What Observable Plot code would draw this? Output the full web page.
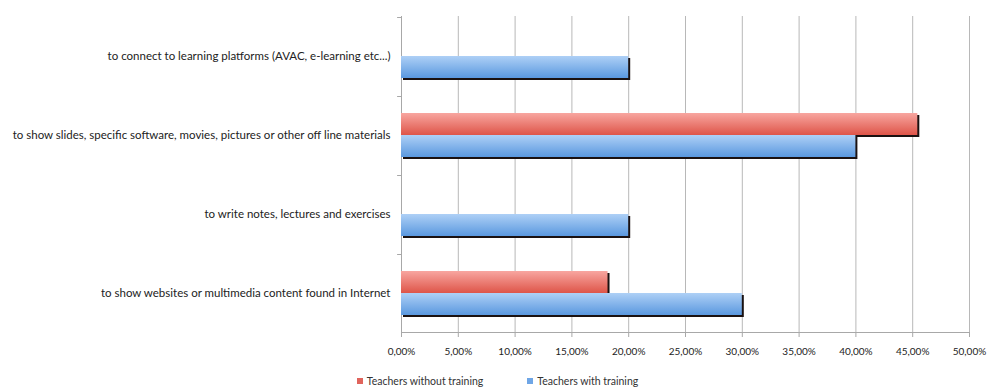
<!DOCTYPE html>
<html><head><meta charset="utf-8">
<script src="https://cdn.jsdelivr.net/npm/d3@7"></script>
<script src="https://cdn.jsdelivr.net/npm/@observablehq/plot@0.6"></script>
<style>
body{margin:0;background:#fff;font-family:Lato,"Open Sans",sans-serif;}
#chart svg{display:block;}
#legend{display:flex;justify-content:center;gap:44px;font-size:10.5px;color:#333;height:15px;line-height:15px;margin-top:2px;margin-left:6px;}
#legend span.sw{display:inline-block;width:6px;height:6px;margin-right:4px;vertical-align:middle;position:relative;top:-1px;}
</style></head><body>
<div id="chart"></div>
<div id="legend"></div>
<script>
const categories = [
  "to connect to learning platforms (AVAC, e-learning etc...)",
  "to show slides, specific software, movies, pictures or other off line materials",
  "to write notes, lectures and exercises",
  "to show websites or multimedia content found in Internet"
];
const seriesNames = ["Teachers without training", "Teachers with training"];
const withoutTraining = [0, 0.4545, 0, 0.1818];
const withTraining = [0.20, 0.40, 0.20, 0.30];
const xTicks = [0, 0.05, 0.10, 0.15, 0.20, 0.25, 0.30, 0.35, 0.40, 0.45, 0.50];

const rows = categories.flatMap((c, i) => [
  {category: c, series: seriesNames[0], value: withoutTraining[i]},
  {category: c, series: seriesNames[1], value: withTraining[i]}
]);
const redRows = rows.filter(d => d.series === seriesNames[0]);
const blueRows = rows.filter(d => d.series === seriesNames[1]);
const fmt = d => (d * 100).toFixed(2).replace(".", ",") + "%";

const lineShape = {draw(context, l) { context.moveTo(0, 0); context.lineTo(0, -l); }};

const plot = Plot.plot({
  width: 989, height: 372,
  marginTop: 15, marginBottom: 40, marginLeft: 401, marginRight: 20,
  style: {fontFamily: "Lato, 'Open Sans', sans-serif", fontSize: "10px", color: "#222", background: "#fff"},
  x: {domain: [0, 0.5], label: null},
  y: {domain: seriesNames, paddingInner: 0, paddingOuter: 0.72, axis: null},
  fy: {domain: categories, padding: 0, label: null},
  marks: [
    Plot.gridX(xTicks, {stroke: "#b8b8b8", strokeOpacity: 1}),
    Plot.ruleX([0], {stroke: "#a8a8a8"}),
    Plot.vector(categories, {fy: d => d, x: () => 0, y: () => seriesNames[0], dy: -28, rotate: -90, length: 4, anchor: "start", shape: lineShape, stroke: "#a8a8a8", strokeWidth: 1}),
    Plot.barX(rows, {x: "value", y: "series", fy: "category", fill: "#1a1111", dx: 2, dy: 2, inset: 0}),
    Plot.barX(redRows, {x: "value", y: "series", fy: "category", fill: "url(#gRed)", inset: 0}),
    Plot.barX(blueRows, {x: "value", y: "series", fy: "category", fill: "url(#gBlue)", inset: 0}),
    Plot.frame({anchor: "bottom", facetAnchor: "bottom", stroke: "#a8a8a8"}),
    Plot.axisX(xTicks, {tickFormat: fmt, tickSize: 5, tickPadding: 10, stroke: "#a8a8a8", strokeOpacity: 1, color: "#222", label: null}),
    Plot.axisFy({anchor: "left", tickSize: 0, tickPadding: 11, fontSize: 11.5, label: null, color: "#222"})
  ]
});

const svg = d3.select(plot);
const defs = svg.insert("defs", ":first-child");
function grad(id, top, bottom) {
  const g = defs.append("linearGradient").attr("id", id).attr("x1", 0).attr("y1", 0).attr("x2", 0).attr("y2", 1);
  g.append("stop").attr("offset", "0%").attr("stop-color", top);
  g.append("stop").attr("offset", "100%").attr("stop-color", bottom);
}
grad("gRed", "#f8a6a0", "#de5549");
grad("gBlue", "#aed0f6", "#5a98df");
document.getElementById("chart").appendChild(plot);

const legendColors = ["#e0645c", "#6fa6e6"];
const legend = d3.select("#legend");
seriesNames.forEach((s, i) => {
  const item = legend.append("div");
  item.append("span").attr("class", "sw").style("background", legendColors[i]);
  item.append("span").text(s);
});
</script>
</body></html>
